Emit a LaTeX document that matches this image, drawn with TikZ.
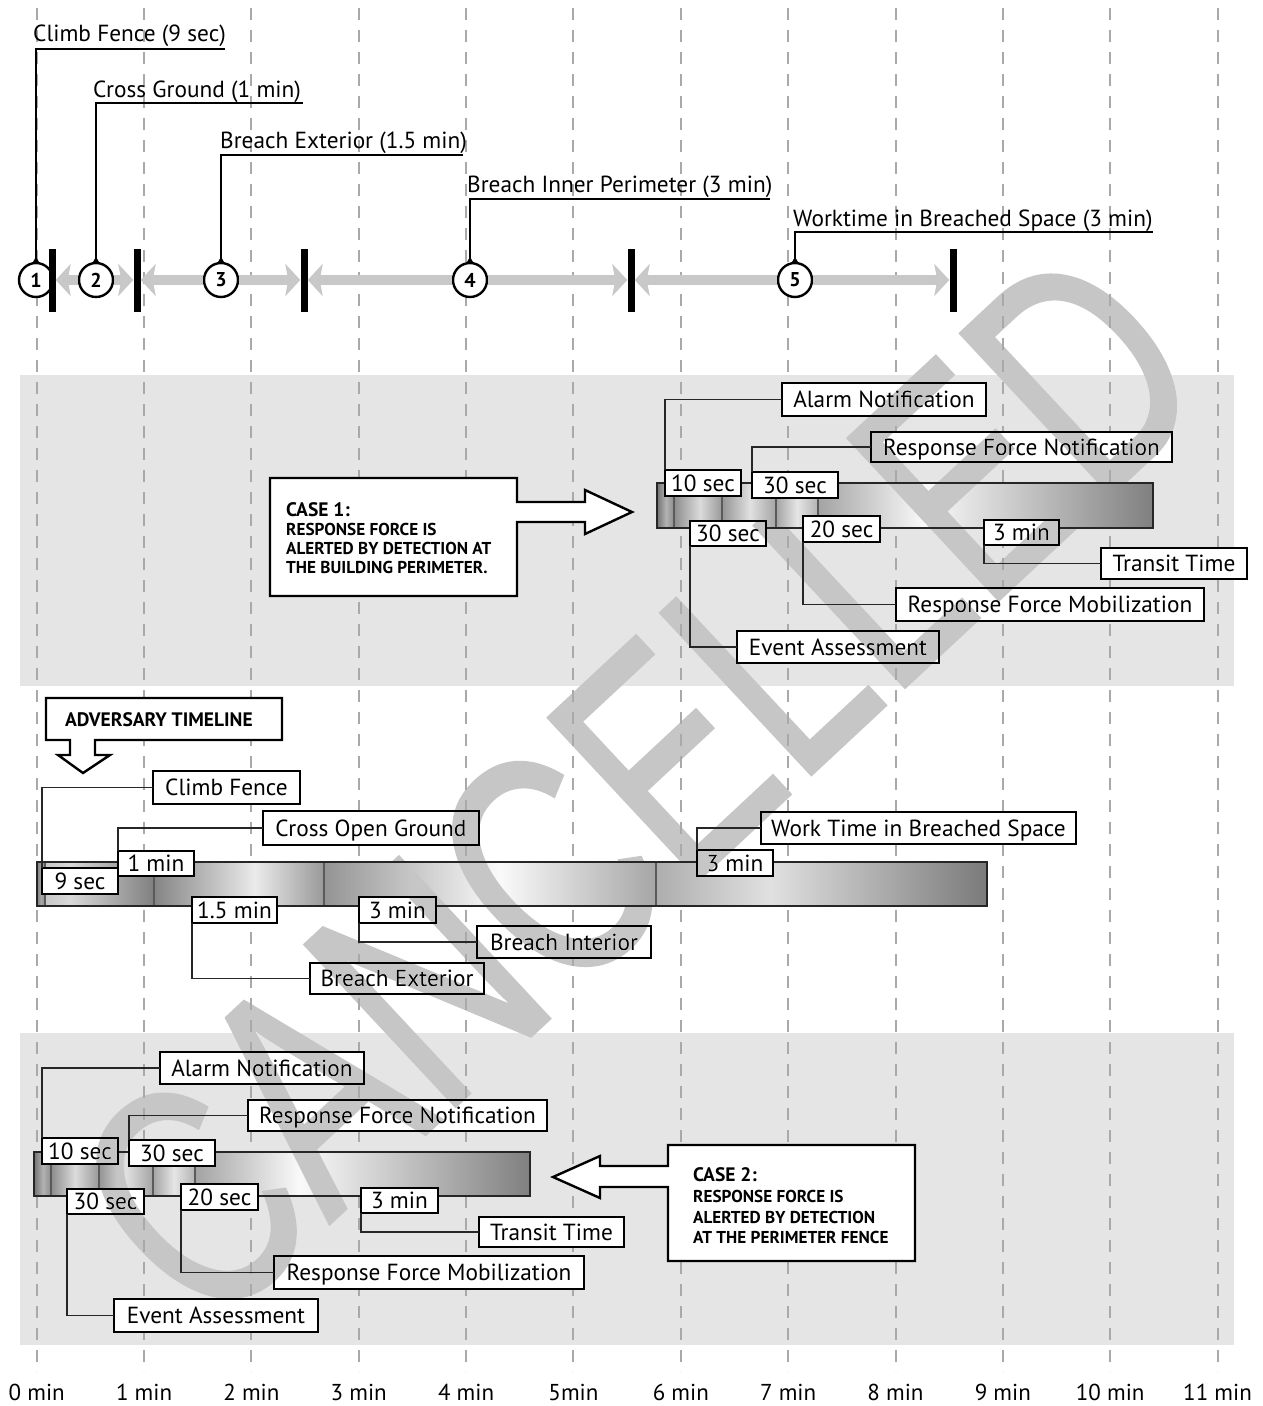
\documentclass[tikz,border=0pt]{standalone}
\usepackage{fontspec}
\setmainfont{PT Sans}
\newfontfamily\wmfont[FakeBold=1.2]{Liberation Sans}
\usetikzlibrary{arrows.meta,calc}
\definecolor{bandc}{HTML}{E5E5E6}
\definecolor{gridc}{HTML}{A9A9A9}
\definecolor{arrowc}{HTML}{C8C8C8}
\definecolor{wmc}{HTML}{C6C6C6}
\definecolor{sepc}{HTML}{5A5A5A}

% labelled box: name, x1, y1, x2, y2, text
\newcommand\tbox[6]{\node[lbl,minimum width={#4-#2},minimum height={#5-#3}] (#1) at (#2,#3) {#6};}
% shaded bar segment: x1, x-light, x2, left colour, light colour, right colour, y1, y2
\newcommand\barseg[8]{%
  \shade[left color=#4,right color=#5] (#1,#7) rectangle (#2,#8);
  \shade[left color=#5,right color=#6] (#2,#7) rectangle (#3,#8);}

\begin{document}
\begin{tikzpicture}[x=1pt,y=-1pt,
  lbl/.style={draw=black,line width=2.4pt,fill=white,inner sep=0pt,outer sep=0pt,anchor=north west,
    font=\fontsize{23.3}{27}\selectfont,text height=16pt,text depth=0pt},
  conn/.style={draw=black!85,line width=1.8pt},
  gridl/.style={draw=gridc,line width=2pt,dash pattern=on 12pt off 10pt},
  barline/.style={draw=black!85,line width=2.2pt},
  sepl/.style={draw=sepc,line width=1.8pt},
  numc/.style={circle,draw=black,line width=2.4pt,fill=white,minimum size=34pt,inner sep=0pt,
    font=\fontsize{20}{20}\selectfont\bfseries},
  stop/.style={fill=black,minimum width=7pt,minimum height=63pt,inner sep=0pt},
  garrow/.style={draw=arrowc,line width=10pt,-{Stealth[length=15pt,width=32pt,inset=3pt]}},
  pin/.style={draw=black,line width=1.8pt},
  toplbl/.style={anchor=base west,inner sep=0pt,font=\fontsize{23.3}{27}\selectfont},
  callout/.style={draw=black,line width=2.4pt,fill=white,line join=miter},
  cohead/.style={anchor=base west,inner sep=0pt,font=\fontsize{19.5}{22}\selectfont\bfseries},
  cobody/.style={anchor=base west,inner sep=0pt,font=\fontsize{17.2}{20}\selectfont\bfseries},
  axlbl/.style={inner sep=0pt,font=\fontsize{23}{27}\selectfont},
]
\useasboundingbox (0,0) rectangle (1262,1406);
\fill[white] (0,0) rectangle (1262,1406);

% shaded bands behind the two response cases
\fill[bandc] (20,375) rectangle (1234,686);
\fill[bandc] (20,1033) rectangle (1234,1345);

% minute grid and axis labels
\foreach \i/\lab in {0/0 min,1/1 min,2/2 min,3/3 min,4/4 min,5/5min,6/6 min,7/7 min,8/8 min,9/9 min,10/10 min,11/11 min}{
  \draw[gridl] ({36.7+107.35*\i},8) -- ({36.7+107.35*\i},1372);
  \node[axlbl] (m\i) at ({36.7+107.35*\i},1392) {\lab};
}

% ---------- adversary path: steps and stops ----------
\node[numc] (n1) at (36,280) {1};
\node[numc] (n2) at (96,280) {2};
\node[numc] (n3) at (221,280) {3};
\node[numc] (n4) at (470,280) {4};
\node[numc] (n5) at (795,280) {5};
\node[stop] (b1) at (52,280) {};
\node[stop] (b2) at (137,280) {};
\node[stop] (b3) at (304,280) {};
\node[stop] (b4) at (631,280) {};
\node[stop] (b5) at (953,280) {};
\draw[garrow] (n2) -- (b1);
\draw[garrow] (n2) -- (b2);
\draw[garrow] (n3) -- (b2);
\draw[garrow] (n3) -- (b3);
\draw[garrow] (n4) -- (b3);
\draw[garrow] (n4) -- (b4);
\draw[garrow] (n5) -- (b4);
\draw[garrow] (n5) -- (b5);

\node[toplbl] (t1) at (33,41) {Climb Fence (9 sec)};
\node[toplbl] (t2) at (93,97) {Cross Ground (1 min)};
\node[toplbl] (t3) at (220,148) {Breach Exterior (1.5 min)};
\node[toplbl] (t4) at (467,192) {Breach Inner Perimeter (3 min)};
\node[toplbl] (t5) at (793,226) {Worktime in Breached Space (3 min)};
\coordinate (u1) at (225,49);
\coordinate (u2) at (303,103);
\coordinate (u3) at (463,155);
\coordinate (u4) at (770,199);
\coordinate (u5) at (1153,232);
\foreach \k in {1,...,5}{
  \draw[pin] (n\k.north) |- (u\k);
  \fill (n\k.north) ++(-4,2) -- ++(8,0) -- ++(-4,-7) -- cycle;
}

% ---------- case 1 ----------
\barseg{657}{666}{674}{black!55}{black!30}{black!45}{483}{528}
\barseg{674}{700}{722}{black!45}{black!14}{black!40}{483}{528}
\barseg{722}{750}{776}{black!42}{black!12}{black!36}{483}{528}
\barseg{776}{797}{818}{black!36}{black!10}{black!30}{483}{528}
\barseg{818}{925}{1153}{black!36}{black!2}{black!50}{483}{528}
\foreach \x in {674,722,776,818} \draw[sepl] (\x,483) -- (\x,528);
\draw[barline] (657,483) rectangle (1153,528);

\tbox{a1}{782}{383}{986}{416}{Alarm Notification}
\tbox{a2}{871}{432}{1172}{462}{Response Force Notification}
\tbox{a3}{665}{470}{741}{496}{10 sec}
\tbox{a4}{752}{472}{838}{498}{30 sec}
\tbox{a5}{690}{521}{766}{546}{30 sec}
\tbox{a6}{803}{516}{880}{542}{20 sec}
\tbox{a7}{984}{520}{1059}{545}{3 min}
\tbox{a8}{1101}{548}{1247}{579}{Transit Time}
\tbox{a9}{896}{588}{1204}{621}{Response Force Mobilization}
\tbox{a10}{737}{631}{939}{663}{Event Assessment}
\draw[conn] (a1.west) -| (a3.north west);
\draw[conn] (a2.west) -| (a4.north west);
\draw[conn] (a5.south west) |- (a10.west);
\draw[conn] (a6.south west) |- (a9.west);
\draw[conn] (a7.south west) |- (a8.west);

\draw[callout] (270,478) -- (517,478) -- (517,502) -- (585,502) -- (585,490) -- (632,512)
  -- (585,534) -- (585,522) -- (517,522) -- (517,596) -- (270,596) -- cycle;
\node[cohead] (c1a) at (286,516) {CASE 1:};
\node[cobody] (c1b) at (286,535) {RESPONSE FORCE IS};
\node[cobody] (c1c) at (286,554) {ALERTED BY DETECTION AT};
\node[cobody] (c1d) at (286,573) {THE BUILDING PERIMETER.};

% ---------- adversary timeline ----------
\draw[callout] (46,698) -- (282,698) -- (282,740) -- (95,740) -- (95,755) -- (110,755)
  -- (83,773) -- (58,755) -- (70,755) -- (70,740) -- (46,740) -- cycle;
\node[cohead] (adv) at (65,726) {ADVERSARY TIMELINE};

\barseg{37}{41}{45}{black!50}{black!35}{black!45}{862}{906}
\barseg{45}{70}{154}{black!22}{black!15}{black!50}{862}{906}
\barseg{154}{255}{324}{black!48}{black!8}{black!40}{862}{906}
\barseg{324}{500}{656}{black!42}{black!2}{black!35}{862}{906}
\barseg{656}{770}{987}{black!32}{black!12}{black!52}{862}{906}
\foreach \x in {45,154,324,656} \draw[sepl] (\x,862) -- (\x,906);
\draw[barline] (37,862) rectangle (987,906);

\tbox{d1}{153}{771}{300}{804}{Climb Fence}
\tbox{d2}{263}{811}{479}{845}{Cross Open Ground}
\tbox{d3}{42}{868}{118}{894}{9 sec}
\tbox{d4}{118}{851}{194}{876}{1 min}
\tbox{d5}{192}{897}{277}{923}{1.5 min}
\tbox{d6}{359}{897}{436}{923}{3 min}
\tbox{d7}{477}{926}{651}{958}{Breach Interior}
\tbox{d8}{310}{963}{484}{994}{Breach Exterior}
\tbox{d9}{761}{812}{1076}{844}{Work Time in Breached Space}
\tbox{d10}{697}{850}{773}{876}{3 min}
\draw[conn] (d1.west) -| (d3.north west);
\draw[conn] (d2.west) -| (d4.north west);
\draw[conn] (d5.south west) |- (d8.west);
\draw[conn] (d6.south west) |- (d7.west);
\draw[conn] (d9.west) -| (d10.north west);

% ---------- case 2 ----------
\barseg{34}{43}{51}{black!55}{black!30}{black!45}{1152}{1196}
\barseg{51}{75}{99}{black!45}{black!14}{black!40}{1152}{1196}
\barseg{99}{126}{153}{black!42}{black!12}{black!36}{1152}{1196}
\barseg{153}{174}{195}{black!36}{black!10}{black!30}{1152}{1196}
\barseg{195}{300}{530}{black!36}{black!2}{black!50}{1152}{1196}
\foreach \x in {51,99,153,195} \draw[sepl] (\x,1152) -- (\x,1196);
\draw[barline] (34,1152) rectangle (530,1196);

\tbox{e1}{160}{1052}{364}{1084}{Alarm Notification}
\tbox{e2}{248}{1100}{547}{1131}{Response Force Notification}
\tbox{e3}{42}{1138}{118}{1164}{10 sec}
\tbox{e4}{129}{1140}{215}{1166}{30 sec}
\tbox{e5}{67}{1189}{144}{1214}{30 sec}
\tbox{e6}{181}{1184}{258}{1210}{20 sec}
\tbox{e7}{361}{1188}{438}{1213}{3 min}
\tbox{e8}{479}{1217}{624}{1247}{Transit Time}
\tbox{e9}{274}{1256}{584}{1289}{Response Force Mobilization}
\tbox{e10}{114}{1299}{318}{1332}{Event Assessment}
\draw[conn] (e1.west) -| (e3.north west);
\draw[conn] (e2.west) -| (e4.north west);
\draw[conn] (e5.south west) |- (e10.west);
\draw[conn] (e6.south west) |- (e9.west);
\draw[conn] (e7.south west) |- (e8.west);

\draw[callout] (668,1145) -- (915,1145) -- (915,1261) -- (668,1261) -- (668,1187) -- (600,1187)
  -- (600,1198) -- (553,1177) -- (600,1156) -- (600,1166) -- (668,1166) -- cycle;
\node[cohead] (c2a) at (693,1181) {CASE 2:};
\node[cobody] (c2b) at (693,1202) {RESPONSE FORCE IS};
\node[cobody] (c2c) at (693,1223) {ALERTED BY DETECTION};
\node[cobody] (c2d) at (693,1243) {AT THE PERIMETER FENCE};

% ---------- status stamp ----------
\begin{scope}[blend mode=darken]
\node[text=wmc,inner sep=0pt,font=\wmfont\fontsize{320}{320}\selectfont,rotate=43] (stamp) at (638,785) {\scalebox{0.72}[1]{CANCELLED}};
\end{scope}
\end{tikzpicture}
\end{document}
